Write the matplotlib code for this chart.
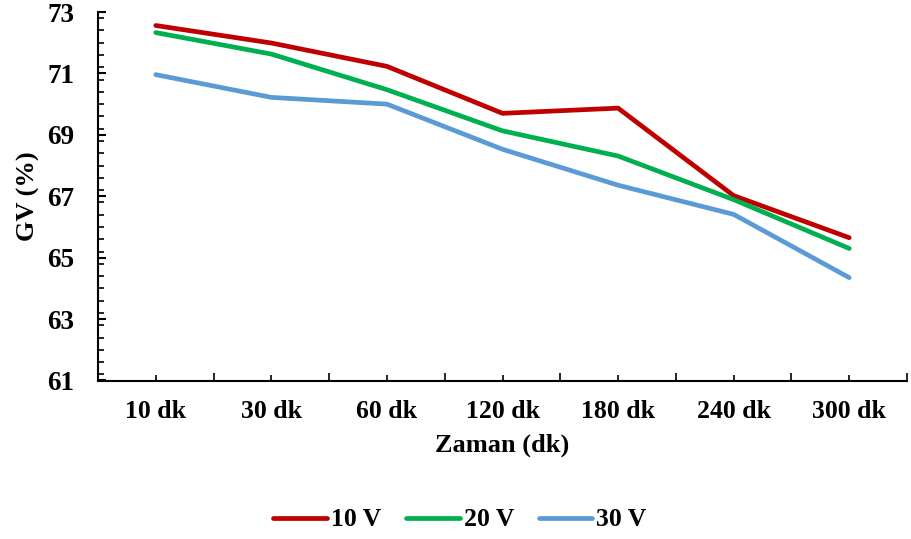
import matplotlib
matplotlib.use("Agg")
import matplotlib.pyplot as plt
from matplotlib.ticker import FixedLocator, MultipleLocator

plt.rcParams['font.family'] = ['Liberation Serif', 'DejaVu Serif']
plt.rcParams['font.weight'] = 'bold'

categories = ["10 dk", "30 dk", "60 dk", "120 dk", "180 dk", "240 dk", "300 dk"]
gv_10v = [72.56, 71.99, 71.23, 69.70, 69.87, 67.02, 65.65]
gv_20v = [72.33, 71.63, 70.47, 69.13, 68.31, 66.89, 65.30]
gv_30v = [70.96, 70.22, 70.00, 68.53, 67.36, 66.41, 64.35]
y_ticks = [61, 63, 65, 67, 69, 71, 73]
series_labels = ["10 V", "20 V", "30 V"]
colors = ["#C00000", "#00B050", "#5B9BD5"]

fig = plt.figure(figsize=(9.11, 5.39), dpi=100)
ax = fig.add_axes([98 / 911, 1 - 380.5 / 539, (907 - 98) / 911, (380.5 - 12) / 539])

x = list(range(len(categories)))
for vals, lab, c in zip([gv_10v, gv_20v, gv_30v], series_labels, colors):
    ax.plot(x, vals, color=c, lw=3.4, label=lab, solid_capstyle='round',
            solid_joinstyle='round')

ax.set_xlim(-0.5, len(categories) - 0.5)
ax.set_ylim(61, 73)

ax.set_xticks(x)
ax.set_xticklabels(categories)
ax.xaxis.set_minor_locator(FixedLocator([i - 0.5 for i in range(len(categories) + 1)]))
ax.yaxis.set_major_locator(FixedLocator(y_ticks))
ax.yaxis.set_minor_locator(MultipleLocator(0.4))

for s in ['top', 'right']:
    ax.spines[s].set_visible(False)
for s in ['left', 'bottom']:
    ax.spines[s].set_linewidth(1.5)
    ax.spines[s].set_color('black')

ax.tick_params(axis='x', which='major', direction='in', length=4.5, width=1.2,
               labelsize=18.5, pad=14)
ax.tick_params(axis='x', which='minor', direction='in', length=6, width=1.2)
ax.tick_params(axis='y', which='major', direction='in', length=6, width=1.5,
               labelsize=19.5, pad=17)
ax.tick_params(axis='y', which='minor', direction='in', length=4.5, width=1.2)
for t in ax.get_xticklabels() + ax.get_yticklabels():
    t.set_fontweight('bold')

ax.set_xlabel("Zaman (dk)", fontsize=19, fontweight='bold', labelpad=8)
ax.set_ylabel("GV (%)", fontsize=19, fontweight='bold', labelpad=5)

leg = fig.legend(loc='center', bbox_to_anchor=(460 / 911, 1 - 520 / 539), ncol=3,
                 frameon=False, fontsize=18.5, handlelength=2.1, handletextpad=0.15,
                 columnspacing=0.95)
for t in leg.get_texts():
    t.set_fontweight('bold')

fig.savefig("out.png", dpi=100)
